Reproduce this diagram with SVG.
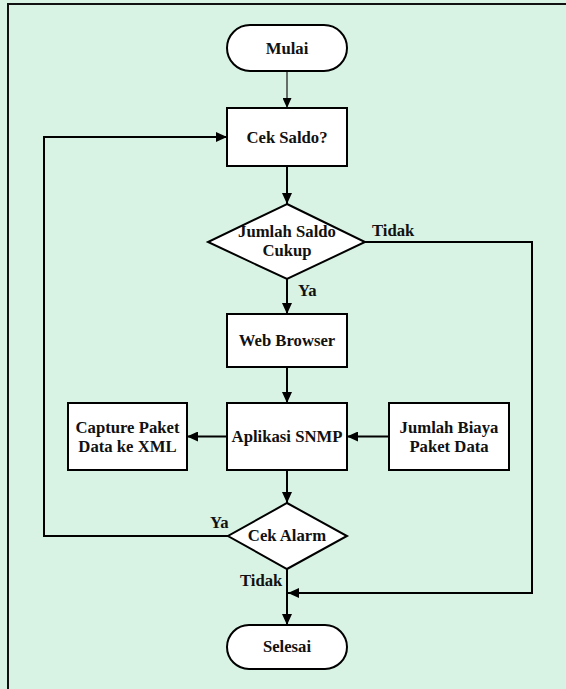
<svg xmlns="http://www.w3.org/2000/svg" width="566" height="689" viewBox="0 0 566 689">
  <style>
    .node { fill: #ffffff; stroke: #000000; stroke-width: 2; }
    .lbl { font-family: 'Liberation Serif', 'Times New Roman', Times, serif; font-weight: 700; font-size: 16.7px; fill: #111111; }
    .mid { text-anchor: middle; }
    .edge { fill: none; stroke: #000000; stroke-width: 2; }
    .edge-thin { fill: none; stroke: #4a4a4a; stroke-width: 1.6; }
  </style>
  <defs>
    <marker id="arrow" viewBox="0 0 11 10" refX="11" refY="5" markerWidth="11" markerHeight="10" markerUnits="userSpaceOnUse" orient="auto">
      <path d="M0,0 L11,5 L0,10 z" fill="#000000"/>
    </marker>
    <marker id="arrow-thin" viewBox="0 0 10 9" refX="10" refY="4.5" markerWidth="10" markerHeight="9" markerUnits="userSpaceOnUse" orient="auto">
      <path d="M0,0 L10,4.5 L0,9 z" fill="#000000"/>
    </marker>
  </defs>

  <!-- page background and frame -->
  <rect x="0" y="0" width="566" height="689" fill="#d8f3e4"/>
  <rect x="8" y="4" width="620" height="720" fill="none" stroke="#111111" stroke-width="2"/>

  <!-- connectors -->
  <g id="connectors" font-family="Liberation Serif, serif">
    <line class="edge-thin" x1="287" y1="71" x2="287" y2="108" marker-end="url(#arrow-thin)"/>
    <line class="edge" x1="287" y1="166" x2="287" y2="204" marker-end="url(#arrow)"/>
    <line class="edge" x1="287" y1="279" x2="287" y2="314" marker-end="url(#arrow)"/>
    <line class="edge" x1="287" y1="367" x2="287" y2="403" marker-end="url(#arrow)"/>
    <line class="edge" x1="227" y1="436.5" x2="187" y2="436.5" marker-end="url(#arrow)"/>
    <line class="edge" x1="389" y1="436.5" x2="347" y2="436.5" marker-end="url(#arrow)"/>
    <line class="edge" x1="287" y1="470" x2="287" y2="503" marker-end="url(#arrow)"/>
    <line class="edge" x1="287" y1="569" x2="287" y2="625" marker-end="url(#arrow)"/>
    <polyline class="edge" points="228,536 44,536 44,137 227,137" marker-end="url(#arrow)"/>
    <polyline class="edge" points="365,242 532,242 532,593 288,593" marker-end="url(#arrow)"/>
    <text class="lbl" x="372" y="236">Tidak</text>
    <text class="lbl" x="298" y="296">Ya</text>
    <text class="lbl" x="210" y="528">Ya</text>
    <text class="lbl" x="240" y="586">Tidak</text>
  </g>

  <g id="mulai">
    <rect class="node" x="227" y="25" width="120" height="46" rx="23" ry="23"/>
    <text class="lbl mid" x="287" y="53.5">Mulai</text>
  </g>

  <g id="cek-saldo">
    <rect class="node" x="227" y="108" width="120" height="58"/>
    <text class="lbl mid" x="287" y="142.5">Cek Saldo?</text>
  </g>

  <g id="jumlah-saldo">
    <polygon class="node" points="287,204 365,242 287,279 208,242"/>
    <text class="lbl mid" x="287" y="237">Jumlah Saldo</text>
    <text class="lbl mid" x="287" y="255.5">Cukup</text>
  </g>

  <g id="web-browser">
    <rect class="node" x="227" y="314" width="120" height="53"/>
    <text class="lbl mid" x="287" y="346">Web Browser</text>
  </g>

  <g id="aplikasi-snmp">
    <rect class="node" x="227" y="403" width="120" height="67"/>
    <text class="lbl mid" x="287" y="442">Aplikasi SNMP</text>
  </g>

  <g id="capture-paket">
    <rect class="node" x="68" y="403" width="119" height="67"/>
    <text class="lbl mid" x="127.5" y="432.5">Capture Paket</text>
    <text class="lbl mid" x="127.5" y="451.5">Data ke XML</text>
  </g>

  <g id="jumlah-biaya">
    <rect class="node" x="389" y="403" width="120" height="67"/>
    <text class="lbl mid" x="449" y="432.5">Jumlah Biaya</text>
    <text class="lbl mid" x="449" y="451.5">Paket Data</text>
  </g>

  <g id="cek-alarm">
    <polygon class="node" points="287,503 347,536 287,569 228,536"/>
    <text class="lbl mid" x="287" y="541">Cek Alarm</text>
  </g>

  <g id="selesai">
    <rect class="node" x="227" y="625" width="120" height="44" rx="22" ry="22"/>
    <text class="lbl mid" x="287" y="652">Selesai</text>
  </g>
</svg>
